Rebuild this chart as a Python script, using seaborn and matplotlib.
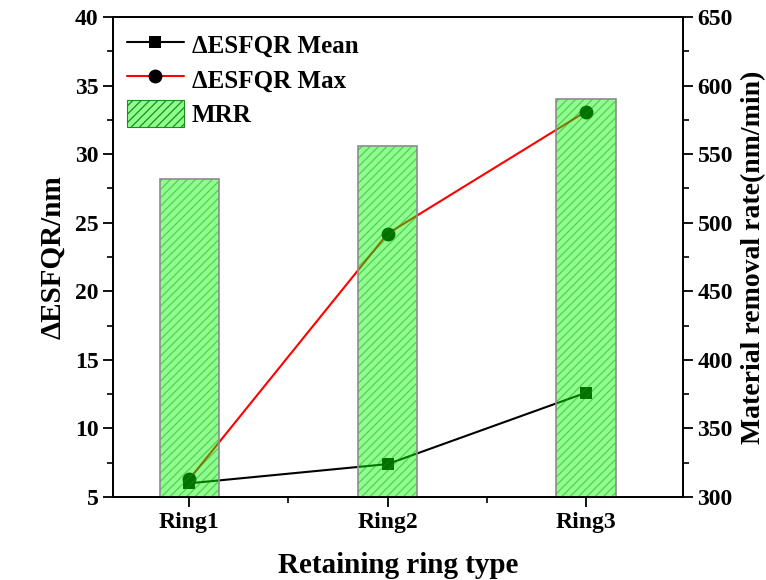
import matplotlib
matplotlib.use("Agg")
import matplotlib.pyplot as plt
from matplotlib.patches import Patch
from matplotlib.ticker import MultipleLocator
import numpy as np
import pandas as pd
import seaborn as sns

# Data
rings = ["Ring1", "Ring2", "Ring3"]
esfqr_mean = [6.0, 7.4, 12.6]      # ΔESFQR mean (nm)
esfqr_max = [6.3, 24.2, 33.1]      # ΔESFQR max (nm)
mrr = [532, 556, 590]              # material removal rate (nm/min)

df = pd.DataFrame({
    "ring": rings,
    "pos": np.arange(len(rings)),
    "mean": esfqr_mean,
    "max": esfqr_max,
    "mrr": mrr,
})

sns.set_theme(style="ticks")
plt.rcParams["font.family"] = ["Liberation Serif", "DejaVu Serif"]
plt.rcParams["font.weight"] = "bold"
plt.rcParams["axes.labelweight"] = "bold"
plt.rcParams["text.color"] = "black"
plt.rcParams["axes.labelcolor"] = "black"
plt.rcParams["hatch.linewidth"] = 0.9

fig, ax = plt.subplots(figsize=(7.66, 5.8), dpi=100)
fig.subplots_adjust(left=0.1475, right=0.8916, top=0.9707, bottom=0.1431)

# ΔESFQR lines on the left axis
sns.lineplot(data=df, x="pos", y="mean", ax=ax, color="black", lw=1.5,
             marker="s", markersize=9, markeredgewidth=0,
             markerfacecolor="black", label="ΔESFQR Mean")
sns.lineplot(data=df, x="pos", y="max", ax=ax, color="red", lw=1.5,
             marker="o", markersize=10, markeredgewidth=0,
             markerfacecolor="black", label="ΔESFQR Max")
line_handles, line_labels = ax.get_legend_handles_labels()
ax.get_legend().remove()

# MRR bars on the right axis, drawn above the lines
bar_face = (0.0, 1.0, 0.0)
hatch_col = "#1e8c1e"
ax2 = ax.twinx()
sns.barplot(data=df, x="ring", y="mrr", ax=ax2, width=0.3, color=bar_face,
            saturation=1, alpha=0.45, hatch="////", edgecolor=hatch_col,
            linewidth=0)
sns.barplot(data=df, x="ring", y="mrr", ax=ax2, width=0.3, fill=False,
            saturation=1, edgecolor="#8c8c8c", linewidth=1.2, color="#8c8c8c")

ax.set_xlim(-0.385, 2.49)
ax.set_ylim(5, 40)
ax2.set_ylim(300, 650)

ax.yaxis.set_major_locator(MultipleLocator(5))
ax.yaxis.set_minor_locator(MultipleLocator(2.5))
ax2.yaxis.set_major_locator(MultipleLocator(50))
ax2.yaxis.set_minor_locator(MultipleLocator(25))
ax.set_xticks(df["pos"])
ax.set_xticks([0.5, 1.5], minor=True)
ax.set_xticklabels(rings)

for a in (ax, ax2):
    a.tick_params(axis="both", which="major", direction="out", length=7,
                  width=1.3, labelsize=17, color="black", labelcolor="black")
    a.tick_params(axis="both", which="minor", direction="out", length=4,
                  width=1.2, color="black")
    for s in a.spines.values():
        s.set_visible(True)
        s.set_linewidth(1.3)
        s.set_color("black")
    for lbl in a.get_xticklabels() + a.get_yticklabels():
        lbl.set_fontweight("bold")
ax2.tick_params(axis="x", which="both", bottom=False, top=False)

ax.set_xlabel("Retaining ring type", fontsize=21, fontweight="bold", labelpad=14)
ax.set_ylabel("ΔESFQR/nm", fontsize=21, fontweight="bold", labelpad=6)
ax2.set_xlabel("")
ax2.set_ylabel("Material removal rate(nm/min)", fontsize=20, fontweight="bold",
               labelpad=6)

bar_handle = Patch(facecolor=(0.0, 1.0, 0.0, 0.45), edgecolor=hatch_col,
                   hatch="////", linewidth=0.8)
ax2.legend(line_handles + [bar_handle], line_labels + ["MRR"],
           loc="upper left", bbox_to_anchor=(0.0, 1.0), frameon=False,
           prop={"size": 18, "weight": "bold"}, handlelength=2.3,
           handleheight=1.3, labelspacing=0.3, borderaxespad=0.25,
           borderpad=0.3, handletextpad=0.3)

fig.savefig("out.png", dpi=100)
